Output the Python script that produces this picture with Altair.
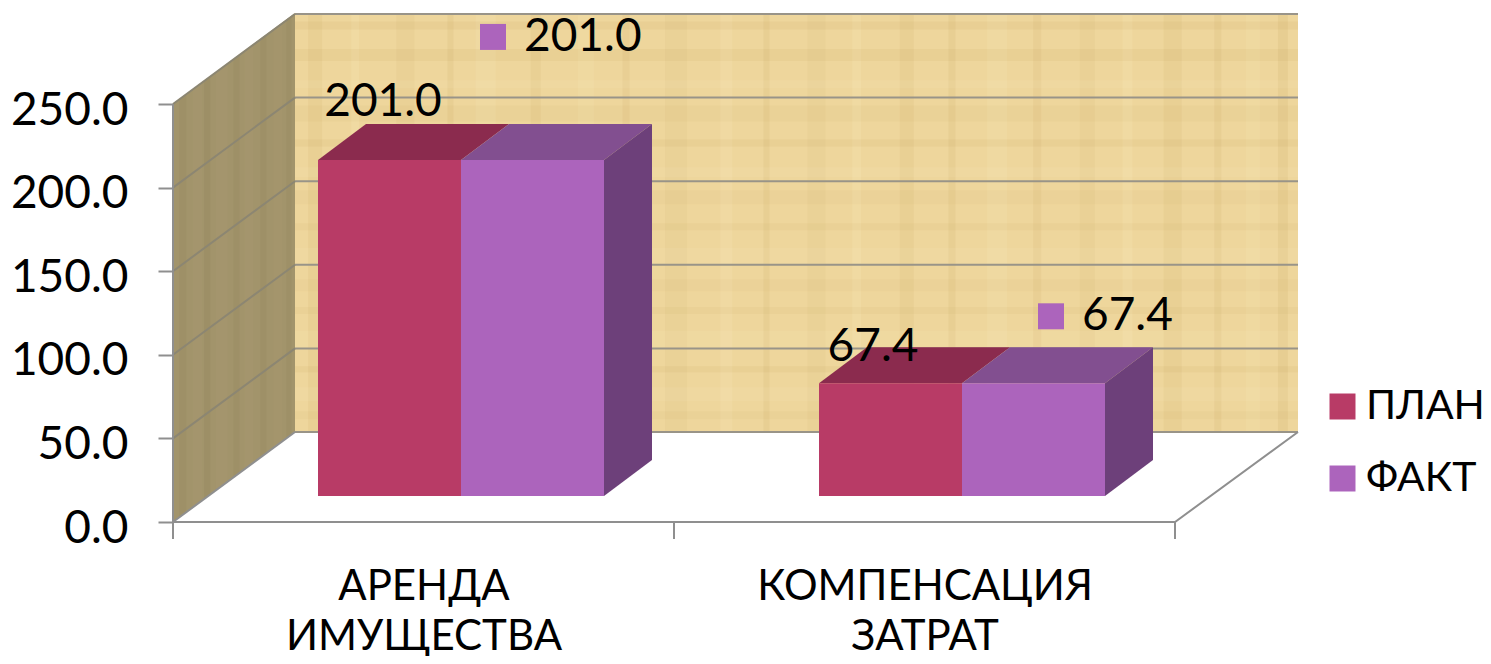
import json
import altair as alt
import pandas as pd

# --- chart values -----------------------------------------------------
CATEGORY_LINES = [["АРЕНДА", "ИМУЩЕСТВА"], ["КОМПЕНСАЦИЯ", "ЗАТРАТ"]]
SERIES = ["ПЛАН", "ФАКТ"]
PLAN = [201.0, 67.4]
FACT = [201.0, 67.4]
Y_TICKS = [0, 50, 100, 150, 200, 250]
X_TICKS = [0, 1, 2]

# --- colours ----------------------------------------------------------
FRONT = ["#B83B66", "#AC64BC"]
TOP = ["#8B2B4E", "#824F90"]
SIDE = "#6D407A"
WALL = "#EED69C"
SIDE_WALL = "#A2946B"
GRID = "#999488"
AXIS_GREY = "#8F8F8F"

# --- geometry: one category / one value unit in pixels ----------------
PX_CAT = 501.0
PX_VAL = 1.672
W, H = 1125, 509
XMAX, YMAX = W / PX_CAT, H / PX_VAL
FLOOR_DX, FLOOR_DY = 122 / PX_CAT, 90 / PX_VAL      # floor depth
BAR_DX, BAR_DY = 37.5 / PX_CAT, 26 / PX_VAL         # front of bars
BAR_DEPTH_X, BAR_DEPTH_Y = 48 / PX_CAT, 36 / PX_VAL  # bar depth
BAR_W = 143 / PX_CAT

xs = alt.Scale(domain=[0, XMAX], nice=False, zero=False)
ys = alt.Scale(domain=[0, YMAX], nice=False, zero=False)
FONT = "Lato"
FS = 46

label_expr = "datum.value < 1 ? " + json.dumps(CATEGORY_LINES[0], ensure_ascii=False) + \
             " : " + json.dumps(CATEGORY_LINES[1], ensure_ascii=False)
X_AXIS = alt.Axis(
    values=[0.5, 1.5], ticks=False, domain=False, grid=False, labelExpr=label_expr,
    labelFont=FONT, labelFontSize=42, labelColor="black", labelPadding=64, labelLimit=600,
    labelLineHeight=50, labelBaseline="middle", labelAlign="center",
    labelOverlap=False, labelBound=False, labelFlush=False)
Y_AXIS = alt.Axis(
    values=Y_TICKS, format=".1f", tickSize=15, tickWidth=2, tickColor=AXIS_GREY, domain=False, grid=False,
    labelFont=FONT, labelFontSize=FS, labelColor="black", labelPadding=30, labelOffset=6,
    labelOverlap=False, labelBound=False)
X = alt.X("x:Q", scale=xs, title=None, axis=X_AXIS)
Y = alt.Y("y:Q", scale=ys, title=None, axis=Y_AXIS)


def df(rows, *cols):
    return alt.Data(values=[dict(zip(cols, r)) for r in rows])


def vpoly(rows, color, opacity=1.0):
    """parallelogram with vertical sides: x, y, y2, group g"""
    return alt.Chart(df(rows, "g", "x", "y", "y2")).mark_area(
        color=color, opacity=opacity, interpolate="linear"
    ).encode(x=X, y=Y, y2="y2:Q", detail="g:N")


def hpoly(rows, color):
    """parallelogram with horizontal sides: y, x, x2"""
    return alt.Chart(df(rows, "g", "y", "x", "x2")).mark_area(
        color=color, orient="horizontal", interpolate="linear"
    ).encode(y=Y, x=X, x2="x2:Q", detail="g:N")


def lines(rows, color, width=2.0):
    return alt.Chart(df(rows, "g", "o", "x", "y")).mark_line(
        color=color, strokeWidth=width
    ).encode(x=X, y=Y, detail="g:N", order="o:Q")


layers = []

# --- back wall and left wall ------------------------------------------
layers.append(alt.Chart(df([[FLOOR_DX, XMAX, FLOOR_DY, YMAX]], "x", "x2", "y", "y2"))
              .mark_rect(color=WALL).encode(x=X, x2="x2:Q", y=Y, y2="y2:Q"))
layers.append(vpoly([["w", 0, 0, 250], ["w", FLOOR_DX, FLOOR_DY, YMAX]], SIDE_WALL))

# hand-placed paper fibres on the back wall: (position 0-1, width px, tone, opacity)
WALL_V = [(.02, 14, "d", .14), (.06, 8, "l", .22), (.11, 18, "d", .12), (.155, 6, "d", .18), (.19, 20, "l", .2),
          (.24, 10, "d", .14), (.29, 16, "l", .18), (.33, 7, "d", .16), (.38, 22, "d", .1), (.43, 12, "l", .24),
          (.47, 6, "d", .18), (.52, 18, "d", .1), (.56, 9, "l", .22), (.61, 14, "d", .14), (.655, 7, "d", .18),
          (.70, 20, "l", .2), (.74, 8, "d", .16), (.79, 15, "d", .12), (.83, 10, "l", .22), (.875, 18, "d", .14),
          (.92, 7, "d", .18), (.955, 14, "l", .18), (.985, 10, "d", .2)]
WALL_H = [(.04, 8, "d", .1), (.09, 14, "l", .16), (.15, 6, "d", .14), (.22, 18, "l", .18), (.29, 7, "d", .12),
          (.35, 12, "d", .08), (.42, 16, "l", .16), (.49, 7, "d", .12), (.56, 14, "d", .08), (.62, 10, "l", .16),
          (.69, 7, "d", .14), (.76, 16, "d", .1), (.83, 8, "l", .16), (.90, 12, "d", .14), (.97, 8, "d", .16)]
SIDE_V = [(.08, 7, "d", .14), (.2, 10, "l", .1), (.28, 6, "d", .18), (.4, 12, "l", .1), (.52, 6, "d", .16),
          (.62, 9, "l", .1), (.74, 6, "d", .16), (.86, 9, "l", .08), (.95, 5, "d", .14)]
TONE = {"d": "#B78F45", "l": "#FFF3CE"}
SIDE_TONE = {"d": "#6F6340", "l": "#C8BA92"}
SOFT = 0.55

fx0, fy0 = FLOOR_DX, FLOOR_DY
for u, w, t, o in WALL_V:
    x0 = fx0 + u * (XMAX - fx0)
    layers.append(alt.Chart(df([[x0 - w / 2 / PX_CAT, x0 + w / 2 / PX_CAT, fy0, YMAX]], "x", "x2", "y", "y2"))
                  .mark_rect(color=TONE[t], opacity=o * SOFT).encode(x=X, x2="x2:Q", y=Y, y2="y2:Q"))
for v, w, t, o in WALL_H:
    y0 = fy0 + v * (YMAX - fy0)
    layers.append(alt.Chart(df([[fx0, XMAX, y0 - w / 2 / PX_VAL, y0 + w / 2 / PX_VAL]], "x", "x2", "y", "y2"))
                  .mark_rect(color=TONE[t], opacity=o * SOFT).encode(x=X, x2="x2:Q", y=Y, y2="y2:Q"))
for u, w, t, o in SIDE_V:
    a, b = u - w / 244, u + w / 244
    layers.append(vpoly([["s", a * FLOOR_DX, a * FLOOR_DY, 250 + a * (YMAX - 250)],
                         ["s", b * FLOOR_DX, b * FLOOR_DY, 250 + b * (YMAX - 250)]], SIDE_TONE[t], o * SOFT))

# --- gridlines --------------------------------------------------------
grid_rows = []
for i, t in enumerate(Y_TICKS):
    grid_rows += [[f"b{i}", 0, FLOOR_DX, t + FLOOR_DY], [f"b{i}", 1, XMAX, t + FLOOR_DY]]
layers.append(lines(grid_rows, GRID))
side_rows = []
for i, t in enumerate(Y_TICKS[1:]):
    side_rows += [[f"s{i}", 0, 0, t], [f"s{i}", 1, FLOOR_DX, t + FLOOR_DY]]
layers.append(lines(side_rows, "#8C8672"))

# --- floor outline and axis lines ------------------------------------
layers.append(lines([["f", 0, 0, 0], ["f", 1, X_TICKS[-1], 0], ["f", 2, XMAX, FLOOR_DY]], AXIS_GREY))
layers.append(lines([["f", 0, 0, 0], ["f", 1, FLOOR_DX, FLOOR_DY]], AXIS_GREY))
layers.append(lines([["a", 0, 0, 0], ["a", 1, 0, Y_TICKS[-1]]], AXIS_GREY))
layers.append(alt.Chart(df([[t, 0, -17 / PX_VAL] for t in X_TICKS], "x", "y", "y2"))
              .mark_rule(color=AXIS_GREY, strokeWidth=2).encode(x=X, y=Y, y2="y2:Q"))

# --- 3-D bars ---------------------------------------------------------
top_plan, top_fact, side_rows, front = [], [], [], []
for i, (p, f) in enumerate(zip(PLAN, FACT)):
    c = i + 0.5 + BAR_DX
    top_plan += [[f"p{i}", p + BAR_DY, c - BAR_W, c],
                 [f"p{i}", p + BAR_DY + BAR_DEPTH_Y, c - BAR_W + BAR_DEPTH_X, c + BAR_DEPTH_X]]
    top_fact += [[f"f{i}", f + BAR_DY, c, c + BAR_W],
                 [f"f{i}", f + BAR_DY + BAR_DEPTH_Y, c + BAR_DEPTH_X, c + BAR_W + BAR_DEPTH_X]]
    side_rows += [[f"s{i}", c + BAR_W, BAR_DY, f + BAR_DY],
                  [f"s{i}", c + BAR_W + BAR_DEPTH_X, BAR_DY + BAR_DEPTH_Y, f + BAR_DY + BAR_DEPTH_Y]]
    front.append({"x": c - BAR_W, "x2": c, "y": BAR_DY, "y2": p + BAR_DY, "s": SERIES[0]})
    front.append({"x": c, "x2": c + BAR_W, "y": BAR_DY, "y2": f + BAR_DY, "s": SERIES[1]})

layers.append(hpoly(top_plan, TOP[0]))
layers.append(hpoly(top_fact, TOP[1]))
layers.append(vpoly(side_rows, SIDE))
layers.append(alt.Chart(alt.Data(values=front)).mark_rect().encode(
    x=X, x2="x2:Q", y=Y, y2="y2:Q",
    color=alt.Color("s:N", scale=alt.Scale(domain=SERIES, range=FRONT), title=None,
                    legend=alt.Legend(orient="none", legendX=1149, legendY=373, symbolType="square",
                                      symbolSize=676, symbolStrokeWidth=0, labelFont=FONT, labelFontSize=41,
                                      labelLimit=300, labelColor="black", rowPadding=30, labelOffset=3, padding=0)),
))

# --- data labels (offsets from bar top, in px) ------------------------
PLAN_LABEL_CX = [383 - 173, 873 - 173]
PLAN_LABEL_UP = [58, 36]
FACT_MARK_CX = [493 - 173, 1051 - 173]
FACT_MARK_UP = [123, 67]
plan_labels = [{"x": cx / PX_CAT, "y": v + BAR_DY + up / PX_VAL, "t": f"{v:.1f}"}
               for cx, up, v in zip(PLAN_LABEL_CX, PLAN_LABEL_UP, PLAN)]
fact_marks = [{"x": cx / PX_CAT, "y": v + BAR_DY + up / PX_VAL, "t": f"{v:.1f}"}
              for cx, up, v in zip(FACT_MARK_CX, FACT_MARK_UP, FACT)]
layers.append(alt.Chart(alt.Data(values=plan_labels)).mark_text(
    font=FONT, fontSize=FS, color="black", align="center", baseline="middle"
).encode(x=X, y=Y, text="t:N"))
layers.append(alt.Chart(alt.Data(values=fact_marks)).mark_point(
    shape="square", filled=True, size=676, opacity=1, color=FRONT[1], strokeWidth=0
).encode(x=X, y=Y))
layers.append(alt.Chart(alt.Data(values=fact_marks)).mark_text(
    font=FONT, fontSize=FS, color="black", align="left", baseline="middle", dx=31
).encode(x=X, y=Y, text="t:N"))

chart = alt.layer(*layers).resolve_scale(color="independent").properties(
    width=W, height=H,
    padding={"left": 165, "top": 5, "right": 185, "bottom": 134},
    autosize=alt.AutoSizeParams(type="none", contains="content"),
    background="white",
).configure_view(stroke=None)

chart.save("out.html", embed_options={"renderer": "svg", "actions": False})
